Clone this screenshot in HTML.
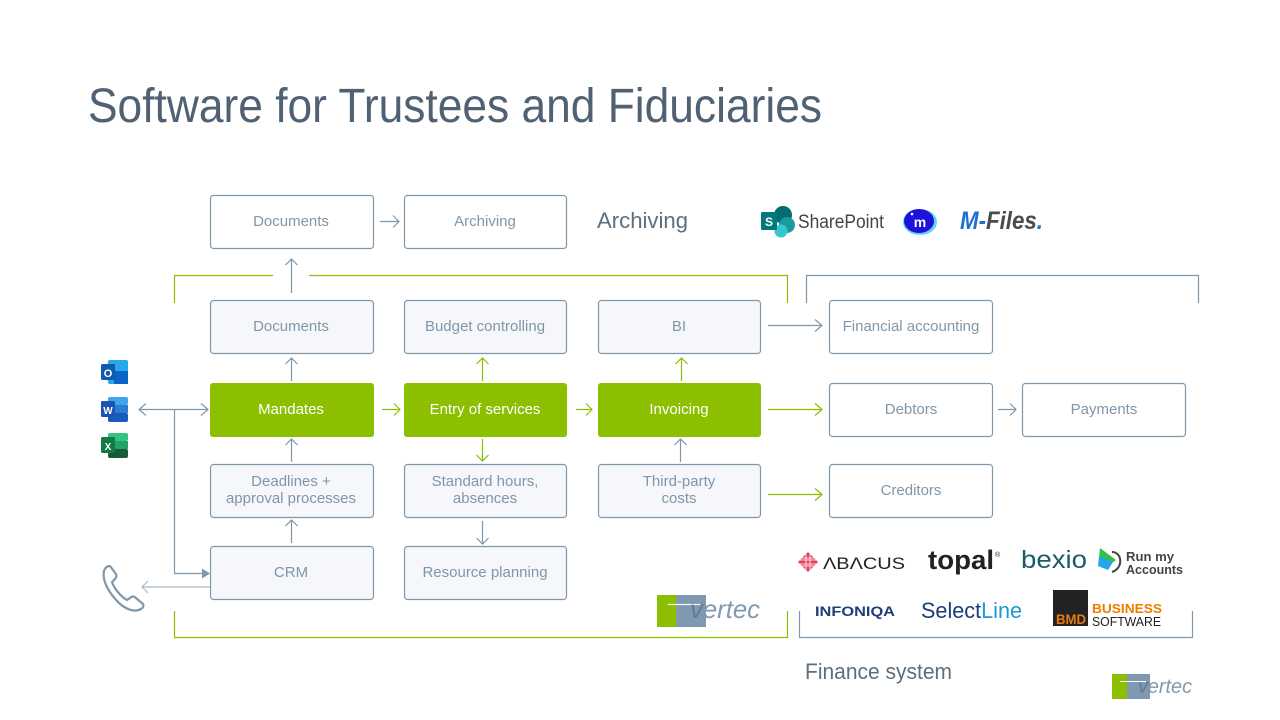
<!DOCTYPE html>
<html><head><meta charset="utf-8"><style>
html,body{margin:0;padding:0;background:#fff;}
svg{display:block;}
text{font-family:"Liberation Sans",sans-serif;}
</style></head><body>
<svg width="1280" height="720" viewBox="0 0 1280 720" xmlns="http://www.w3.org/2000/svg">
<rect width="1280" height="720" fill="#fff"/>
<!-- Title -->
<text x="88" y="122" font-size="48" fill="#4f6172" textLength="734" lengthAdjust="spacingAndGlyphs">Software for Trustees and Fiduciaries</text>

<!-- Brackets -->
<g fill="none" stroke-width="1.2">
<path d="M174.5,303 V275.5 H273 M309,275.5 H787.5 V303" stroke="#8cbf00"/>
<path d="M806.5,303 V275.5 H1198.5 V303" stroke="#7f98aa"/>
<path d="M174.5,611 V637.5 H787.5 V611" stroke="#8cbf00"/>
<path d="M799.5,611 V637.5 H1192.5 V611" stroke="#7f98aa"/>
</g>

<!-- Boxes -->
<g stroke="#7f98aa" stroke-width="1.2">
<rect x="210.5" y="195.5" width="163" height="53" rx="3" fill="#fff"/>
<rect x="404.5" y="195.5" width="162" height="53" rx="3" fill="#fff"/>
<rect x="210.5" y="300.5" width="163" height="53" rx="3" fill="#f5f7fa"/>
<rect x="404.5" y="300.5" width="162" height="53" rx="3" fill="#f5f7fa"/>
<rect x="598.5" y="300.5" width="162" height="53" rx="3" fill="#f5f7fa"/>
<rect x="829.5" y="300.5" width="163" height="53" rx="3" fill="#fff"/>
<rect x="829.5" y="383.5" width="163" height="53" rx="3" fill="#fff"/>
<rect x="1022.5" y="383.5" width="163" height="53" rx="3" fill="#fff"/>
<rect x="210.5" y="464.5" width="163" height="53" rx="3" fill="#f5f7fa"/>
<rect x="404.5" y="464.5" width="162" height="53" rx="3" fill="#f5f7fa"/>
<rect x="598.5" y="464.5" width="162" height="53" rx="3" fill="#f5f7fa"/>
<rect x="829.5" y="464.5" width="163" height="53" rx="3" fill="#fff"/>
<rect x="210.5" y="546.5" width="163" height="53" rx="3" fill="#f5f7fa"/>
<rect x="404.5" y="546.5" width="162" height="53" rx="3" fill="#f5f7fa"/>
</g>
<g fill="#8cbf00">
<rect x="210" y="383" width="164" height="54" rx="3"/>
<rect x="404" y="383" width="163" height="54" rx="3"/>
<rect x="598" y="383" width="163" height="54" rx="3"/>
</g>

<!-- Box labels -->
<g font-size="15" fill="#8096a9" text-anchor="middle">
<text x="291" y="226">Documents</text>
<text x="485" y="226">Archiving</text>
<text x="291" y="331">Documents</text>
<text x="485" y="331">Budget controlling</text>
<text x="679" y="331">BI</text>
<text x="911" y="331">Financial  accounting</text>
<text x="911" y="414">Debtors</text>
<text x="1104" y="414">Payments</text>
<text x="291" y="486">Deadlines +</text>
<text x="291" y="503">approval processes</text>
<text x="485" y="486">Standard hours,</text>
<text x="485" y="503">absences</text>
<text x="679" y="486">Third-party</text>
<text x="679" y="503">costs</text>
<text x="911" y="495">Creditors</text>
<text x="291" y="577">CRM</text>
<text x="485" y="577">Resource planning</text>
</g>
<g font-size="15" fill="#fff" text-anchor="middle">
<text x="291" y="414">Mandates</text>
<text x="485" y="414">Entry of services</text>
<text x="679" y="414">Invoicing</text>
</g>

<!-- Grey connectors -->
<g fill="none" stroke="#7f98aa" stroke-width="1.2">
<!-- Documents up -->
<path d="M291.5,293 V259 M285.5,265 L291.5,259 L297.5,265"/>
<!-- Documents -> Archiving -->
<path d="M380,221.5 H399 M393,215.5 L399,221.5 L393,227.5"/>
<!-- Mandates -> Documents -->
<path d="M291.5,381 V358 M285.5,364 L291.5,358 L297.5,364"/>
<!-- Deadlines -> Mandates -->
<path d="M291.5,462 V439 M285.5,445 L291.5,439 L297.5,445"/>
<!-- CRM -> Deadlines -->
<path d="M291.5,543 V520 M285.5,526 L291.5,520 L297.5,526"/>
<!-- Standard hours -> Resource planning -->
<path d="M482.5,521 V544 M476.5,538 L482.5,544 L488.5,538"/>
<!-- Third-party -> Invoicing -->
<path d="M680.5,462 V439 M674.5,445 L680.5,439 L686.5,445"/>
<!-- BI -> Financial -->
<path d="M768,325.5 H822 M815,319.5 L822,325.5 L815,331.5"/>
<!-- Debtors -> Payments -->
<path d="M998,409.5 H1016 M1010,403.5 L1016,409.5 L1010,415.5"/>
<!-- Word <-> Mandates -->
<path d="M139,409.5 H208 M146,403.5 L139,409.5 L146,415.5 M201,403.5 L208,409.5 L201,415.5"/>
<path d="M174.5,409.5 V573.5 H203"/>
<!-- CRM -> phone -->
<path d="M210,587 H142 M148,581 L142,587 L148,593" stroke="#a9bac6"/>
</g>
<polygon points="202,568.5 210,573.5 202,578.5" fill="#7f98aa"/>

<!-- Green connectors -->
<g fill="none" stroke="#8cbf00" stroke-width="1.2">
<path d="M382,409.5 H400 M394,403.5 L400,409.5 L394,415.5"/>
<path d="M576,409.5 H592 M586,403.5 L592,409.5 L586,415.5"/>
<path d="M482.5,381 V358 M476.5,364 L482.5,358 L488.5,364"/>
<path d="M681.5,381 V358 M675.5,364 L681.5,358 L687.5,364"/>
<path d="M482.5,439 V461 M476.5,455 L482.5,461 L488.5,455"/>
<path d="M768,409.5 H822 M815,403.5 L822,409.5 L815,415.5"/>
<path d="M768,494.5 H822 M815,488.5 L822,494.5 L815,500.5"/>
</g>

<!-- Section labels -->
<text x="597" y="228" font-size="22" fill="#5d6e7d" textLength="91" lengthAdjust="spacingAndGlyphs">Archiving</text>
<text x="805" y="679" font-size="22" fill="#5d6e7d" textLength="147" lengthAdjust="spacingAndGlyphs">Finance system</text>

<!-- Office icons -->
<g>
<rect x="108" y="360" width="20" height="24" rx="2" fill="#28a8ea"/>
<rect x="114" y="371" width="14" height="13" fill="#0a64c8"/>
<rect x="101" y="364" width="14" height="16" rx="1.5" fill="#0f5bb0"/>
<text x="108" y="377" font-size="11" font-weight="bold" fill="#fff" text-anchor="middle">O</text>

<rect x="108" y="397" width="20" height="8" rx="2" fill="#41a5ee"/>
<rect x="108" y="405" width="20" height="8" fill="#2b7cd3"/>
<rect x="108" y="413" width="20" height="9" rx="2" fill="#185abd"/>
<rect x="101" y="401" width="14" height="16" rx="1.5" fill="#1a55b0"/>
<text x="108" y="414" font-size="10" font-weight="bold" fill="#fff" text-anchor="middle">W</text>

<rect x="108" y="433" width="20" height="8" rx="2" fill="#33c481"/>
<rect x="108" y="441" width="20" height="8" fill="#21a366"/>
<rect x="108" y="449" width="20" height="9" rx="2" fill="#185c37"/>
<rect x="101" y="437" width="14" height="16" rx="1.5" fill="#107c41"/>
<text x="108" y="450" font-size="10" font-weight="bold" fill="#fff" text-anchor="middle">X</text>
</g>

<!-- Phone icon -->
<path d="M110,566 L116,574 C117,576 116,578 114,580 L112,582 C114,588 120,596 127,600 L130,598 C132,596 134,596 136,598 L143,604 C144,606 143,608 141,609 C136,612 128,611 119,603 C108,592 102,580 104,571 C105,568 107,566 110,566 Z" fill="none" stroke="#7f98aa" stroke-width="2.2" stroke-linejoin="round"/>

<!-- SharePoint -->
<g>
<circle cx="783" cy="215" r="9" fill="#036c70"/>
<circle cx="787" cy="225" r="8" fill="#1a9ba1"/>
<circle cx="781" cy="231" r="6.5" fill="#37c6d0"/>
<rect x="761" y="212" width="16" height="18" rx="1.5" fill="#03787c"/>
<text x="769" y="226" font-size="12" font-weight="bold" fill="#fff" text-anchor="middle">S</text>
<text x="798" y="228" font-size="19" fill="#444" textLength="86" lengthAdjust="spacingAndGlyphs">SharePoint</text>
</g>
<!-- iManage -->
<g>
<ellipse cx="920" cy="222" rx="17" ry="13" fill="#5fd4f0"/>
<ellipse cx="919" cy="221" rx="15" ry="12" fill="#1e14d9"/>
<text x="920" y="227" font-size="14" font-weight="bold" fill="#fff" text-anchor="middle">m</text>
<circle cx="912" cy="214" r="1.3" fill="#fff"/>
</g>
<!-- M-Files -->
<text x="960" y="229" font-size="25" font-weight="bold" font-style="italic" textLength="83" lengthAdjust="spacingAndGlyphs"><tspan fill="#1c6fd3">M-</tspan><tspan fill="#4b4b4b">Files</tspan><tspan fill="#1c6fd3">.</tspan></text>

<!-- Finance logos -->
<g>
<polygon points="808,552 818,562 808,572 798,562" fill="#e8415f"/>
<g stroke="#fff" stroke-width="0.8">
<path d="M800,560 H816 M800,564 H816 M806,554 V570 M810,554 V570 M802,558 H814 M802,566 H814"/>
</g>
<text x="823" y="569" font-size="17" fill="#222" textLength="82" lengthAdjust="spacingAndGlyphs">ΛBΛCUS</text>
<text x="928" y="569" font-size="27" font-weight="bold" fill="#222" textLength="66" lengthAdjust="spacingAndGlyphs">topal</text>
<text x="995" y="557" font-size="7" fill="#222">®</text>
<text x="1021" y="568" font-size="25" fill="#1c5b6b" textLength="66" lengthAdjust="spacingAndGlyphs">bexio</text>
<polygon points="1100,548 1116,560 1108,566 1099,558" fill="#2fc14a"/>
<polygon points="1099,556 1113,562 1108,570 1098,566" fill="#25a4e6"/>
<path d="M1112,552 C1122,552 1124,568 1112,572" fill="none" stroke="#444" stroke-width="2"/>
<text x="1126" y="561" font-size="13" font-weight="bold" fill="#444" textLength="48" lengthAdjust="spacingAndGlyphs">Run my</text>
<text x="1126" y="574" font-size="13" font-weight="bold" fill="#444" textLength="57" lengthAdjust="spacingAndGlyphs">Accounts</text>

<text x="815" y="616" font-size="14" font-weight="bold" fill="#1e3e78" textLength="80" lengthAdjust="spacingAndGlyphs">INFONIQA</text>
<text x="921" y="618" font-size="22" textLength="101" lengthAdjust="spacingAndGlyphs"><tspan fill="#1b3c7b">Select</tspan><tspan fill="#1b9ad6">Line</tspan></text>
<rect x="1053" y="590" width="35" height="36" fill="#222"/>
<text x="1056" y="624" font-size="14" font-weight="bold" fill="#e87a10" textLength="30" lengthAdjust="spacingAndGlyphs">BMD</text>
<text x="1092" y="613" font-size="13" font-weight="bold" fill="#f07d00" textLength="70" lengthAdjust="spacingAndGlyphs">BUSINESS</text>
<text x="1092" y="626" font-size="13" fill="#222" textLength="69" lengthAdjust="spacingAndGlyphs">SOFTWARE</text>
</g>

<!-- vertec logo 1 -->
<g>
<rect x="657" y="595" width="19" height="32" fill="#8cbf00"/>
<rect x="676" y="595" width="30" height="32" fill="#7f9ab0"/>
<path d="M668,604.5 H700" stroke="#fff" stroke-width="1.2"/>
<text x="690" y="618" font-size="26" font-style="italic" fill="#7f9ab0" textLength="70" lengthAdjust="spacingAndGlyphs"><tspan fill="#5f7d94">v</tspan>ertec</text>
</g>
<!-- vertec logo 2 -->
<g>
<rect x="1112" y="674" width="15" height="25" fill="#8cbf00"/>
<rect x="1127" y="674" width="23" height="25" fill="#7f9ab0"/>
<path d="M1120,681.5 H1146" stroke="#fff" stroke-width="1"/>
<text x="1138" y="693" font-size="20" font-style="italic" fill="#7f9ab0" textLength="54" lengthAdjust="spacingAndGlyphs"><tspan fill="#5f7d94">v</tspan>ertec</text>
</g>
</svg>
</body></html>
